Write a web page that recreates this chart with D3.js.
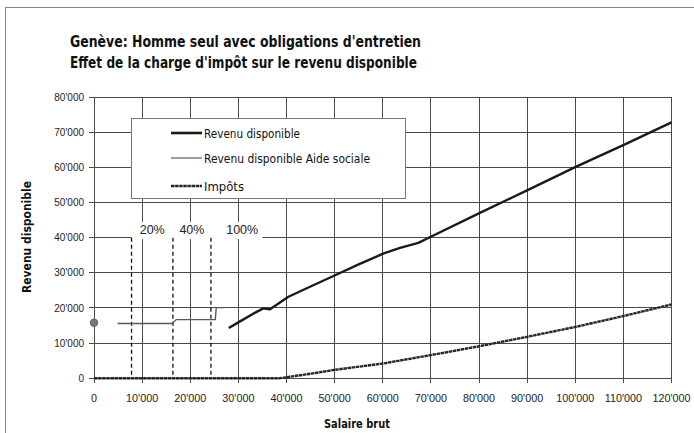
<!DOCTYPE html>
<html><head><meta charset="utf-8">
<script src="https://cdn.jsdelivr.net/npm/d3@7"></script>
<style>body{margin:0;background:#fff}svg{display:block}</style>
</head><body>
<svg id="c" width="694" height="433"></svg>
<script>
const titleLines = ["Genève: Homme seul avec obligations d'entretien", "Effet de la charge d'impôt sur le revenu disponible"];
const xTicks = [0,10000,20000,30000,40000,50000,60000,70000,80000,90000,100000,110000,120000];
const yTicks = [0,10000,20000,30000,40000,50000,60000,70000,80000];
const seriesNames = ["Revenu disponible","Revenu disponible Aide sociale","Impôts"];
const revenuSalaire = [28000,30000,33800,35200,36500,40400,45000,50100,55000,60200,63600,67400,70200,80300,90200,100200,110100,120000];
const revenuValues  = [14300,15900,18900,19900,19600,23200,26100,29300,32400,35500,37100,38500,40400,47100,53600,60200,66400,72800];
const aideSalaire = [4900,16200,17100,25200,25400,27100];
const aideValues  = [15600,15600,16700,16700,20100,20100];
const impotSalaire = [0,38500,40000,45000,50000,60000,70000,80000,90000,100000,110000,120000];
const impotValues  = [0,0,300,1300,2400,4200,6600,9100,11800,14600,17700,21000];
const dotPoint = [0,15800];
const thresholds = [7800,16400,24300];
const thresholdTop = 40000;
const pctLabels = ["20%","40%","100%"];
const pctPos = [12100,20350,30800];

const svg = d3.select("#c");
const x = d3.scaleLinear().domain([0,120000]).range([94,671.5]);
const y = d3.scaleLinear().domain([0,80000]).range([378.3,97]);
const fmt = d => d3.format(",")(d).replace(/,/g, "'");

// outer frame
svg.append("rect").attr("x",5.5).attr("y",7.5).attr("width",720).attr("height",500)
  .attr("fill","none").attr("stroke","#888").attr("stroke-width",1);

// titles
svg.selectAll(".title").data(titleLines).join("text")
  .attr("x",70).attr("y",(d,i)=>47+i*21)
  .attr("font-family","'Liberation Sans Narrow','DejaVu Sans Condensed','Liberation Sans',sans-serif")
  .attr("font-weight","bold").attr("font-size",15.5).attr("fill","#111")
  .attr("textLength",(d,i)=>i===0?351:347).attr("lengthAdjust","spacingAndGlyphs")
  .text(d=>d);

// grid
const g = svg.append("g");
g.selectAll(".vg").data(xTicks).join("line")
  .attr("x1",d=>x(d)).attr("x2",d=>x(d)).attr("y1",y(80000)).attr("y2",y(0)+5)
  .attr("stroke","#4a4a4a").attr("stroke-width",1).attr("shape-rendering","crispEdges");
g.selectAll(".hg").data(yTicks).join("line")
  .attr("x1",x(0)-5).attr("x2",x(120000)).attr("y1",d=>y(d)).attr("y2",d=>y(d))
  .attr("stroke","#4a4a4a").attr("stroke-width",1).attr("shape-rendering","crispEdges");

// y tick labels
svg.selectAll(".yl").data(yTicks).join("text")
  .attr("x",84).attr("y",d=>y(d)+3.6).attr("text-anchor","end")
  .attr("font-family","'Liberation Sans',Arial,sans-serif").attr("font-size",10)
  .attr("fill","#222").text(d=>fmt(d));
// x tick labels
svg.selectAll(".xl").data(xTicks).join("text")
  .attr("x",d=>x(d)).attr("y",402).attr("text-anchor","middle")
  .attr("font-family","'Liberation Sans',Arial,sans-serif").attr("font-size",10.8)
  .attr("fill","#222").text(d=>fmt(d));

// axis titles
svg.append("text").attr("transform","translate(31,237) rotate(-90)").attr("text-anchor","middle")
  .attr("font-family","'Liberation Sans Narrow','DejaVu Sans Condensed','Liberation Sans',sans-serif")
  .attr("font-weight","bold").attr("font-size",12).attr("textLength",112).attr("lengthAdjust","spacingAndGlyphs")
  .attr("fill","#111").text("Revenu disponible");
svg.append("text").attr("x",357).attr("y",428).attr("text-anchor","middle")
  .attr("font-family","'Liberation Sans Narrow','DejaVu Sans Condensed','Liberation Sans',sans-serif")
  .attr("font-weight","bold").attr("font-size",12).attr("textLength",66).attr("lengthAdjust","spacingAndGlyphs")
  .attr("fill","#111").text("Salaire brut");

// white box behind percent labels
svg.append("rect").attr("x",x(thresholds[0])).attr("y",y(44500))
  .attr("width",x(35000)-x(thresholds[0])).attr("height",y(40000)-y(44500)+1.5).attr("fill","#fff");

// dashed thresholds
svg.selectAll(".th").data(thresholds).join("line")
  .attr("x1",d=>x(d)).attr("x2",d=>x(d)).attr("y1",y(thresholdTop)).attr("y2",y(0))
  .attr("stroke","#111").attr("stroke-width",1.3).attr("stroke-dasharray","4,3");

svg.selectAll(".pct").data(pctLabels).join("text")
  .attr("x",(d,i)=>x(pctPos[i])).attr("y",y(42400)+4.5).attr("text-anchor","middle")
  .attr("font-family","'Liberation Sans',Arial,sans-serif").attr("font-size",12.5)
  .attr("fill","#222").text(d=>d);

// lines
const line = d3.line().x(d=>x(d[0])).y(d=>y(d[1]));
const imp = impotSalaire.map((s,i)=>[s,impotValues[i]]);
const rev = revenuSalaire.map((s,i)=>[s,revenuValues[i]]);
const aide = aideSalaire.map((s,i)=>[s,aideValues[i]]);
svg.append("path").attr("d",line(imp)).attr("fill","none").attr("stroke","#262626").attr("stroke-width",2.4).attr("stroke-dasharray","3.5,0.6");
svg.append("path").attr("d",line(aide)).attr("fill","none").attr("stroke","#5a5a5a").attr("stroke-width",1.4);
svg.append("path").attr("d",line(rev)).attr("fill","none").attr("stroke","#1a1a1a").attr("stroke-width",2.4).attr("stroke-linejoin","round");

svg.append("circle").attr("cx",x(dotPoint[0])).attr("cy",y(dotPoint[1])).attr("r",3.8).attr("fill","#777").attr("stroke","#555").attr("stroke-width",0.8);

// legend
const lg = svg.append("g");
lg.append("rect").attr("x",131.5).attr("y",118.5).attr("width",274).attr("height",80)
  .attr("fill","#fff").attr("stroke","#777").attr("stroke-width",1);
const lStyles = [{c:"#1a1a1a",w:2.6,da:null},{c:"#5a5a5a",w:1.2,da:null},{c:"#262626",w:2.4,da:"3.5,0.6"}];
const lY = [133,158,186];
lg.selectAll(".ll").data(seriesNames).join("line")
  .attr("x1",171).attr("x2",202).attr("y1",(d,i)=>lY[i]).attr("y2",(d,i)=>lY[i])
  .attr("stroke",(d,i)=>lStyles[i].c).attr("stroke-width",(d,i)=>lStyles[i].w)
  .attr("stroke-dasharray",(d,i)=>lStyles[i].da);
lg.selectAll(".lt").data(seriesNames).join("text")
  .attr("x",204).attr("y",(d,i)=>lY[i]+4.5)
  .attr("font-family","'Liberation Sans Narrow','DejaVu Sans Condensed','Liberation Sans',sans-serif")
  .attr("font-size",13).attr("fill","#111")
  .attr("textLength",(d,i)=>[96,166,40][i]).attr("lengthAdjust","spacingAndGlyphs")
  .text(d=>d);
</script>
</body></html>
